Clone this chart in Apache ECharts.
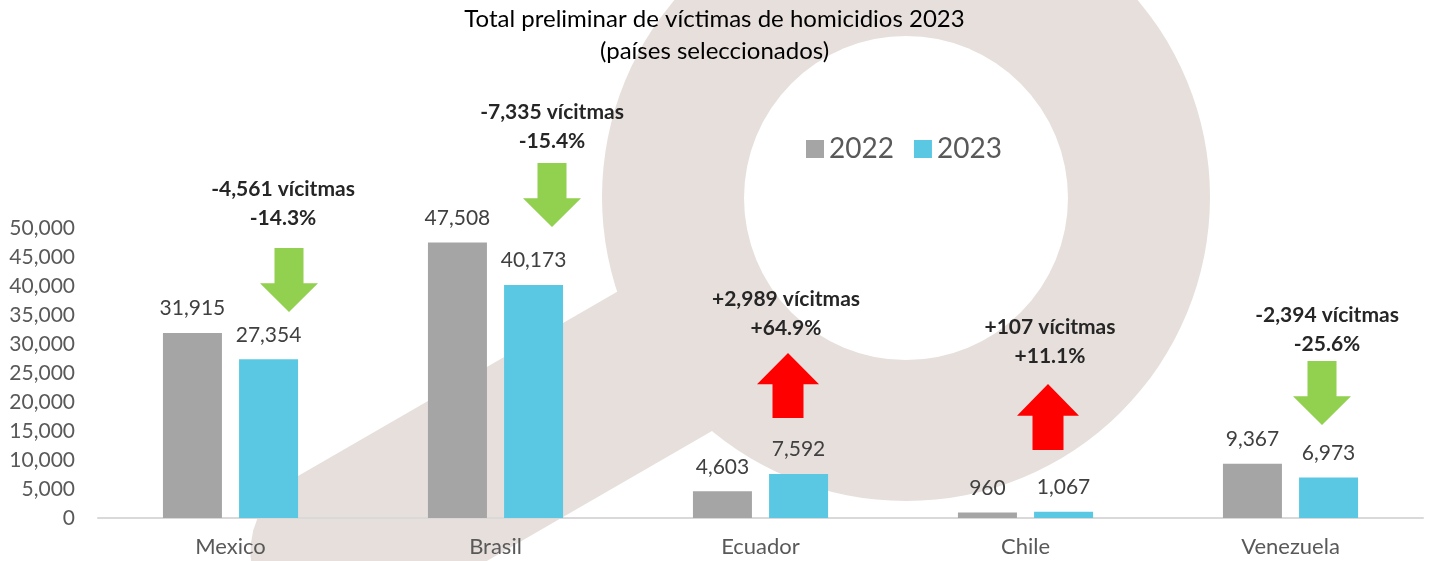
<!DOCTYPE html>
<html>
<head>
<meta charset="utf-8">
<title>Víctimas de homicidios 2023</title>
<script src="https://cdn.jsdelivr.net/npm/echarts@6/dist/echarts.min.js"></script>
<style>
  html, body { margin: 0; padding: 0; background: #fff; }
  #chart { width: 1429px; height: 561px; }
</style>
</head>
<body>
<div id="chart"></div>
<script>
// data
var countries = ['Mexico', 'Brasil', 'Ecuador', 'Chile', 'Venezuela'];
var victims2022 = [31915, 47508, 4603, 960, 9367];
var victims2023 = [27354, 40173, 7592, 1067, 6973];
var deltaText = ['-4,561 vícitmas', '-7,335 vícitmas', '+2,989 vícitmas', '+107 vícitmas', '-2,394 vícitmas'];
var pctText = ['-14.3%', '-15.4%', '+64.9%', '+11.1%', '-25.6%'];

// annotation layout (pixels): text centre x, first line y, arrow top, arrow bottom
var noteLayout = [
  { x: 283, y: 189, ax: 289, top: 248, bottom: 312 },
  { x: 552, y: 112, ax: 552, top: 163, bottom: 227 },
  { x: 786, y: 299, ax: 788, top: 353, bottom: 418 },
  { x: 1050, y: 327, ax: 1048, top: 384, bottom: 450 },
  { x: 1327, y: 315, ax: 1322, top: 361, bottom: 425 }
];

var FONT = 'Lato';
var WATERMARK = '#E6DFDC';

function downArrow(cx, top, bottom) {
  var head = (bottom - top) * 0.45;
  return [[cx - 14.5, top], [cx + 14.5, top], [cx + 14.5, bottom - head], [cx + 29, bottom - head],
    [cx, bottom], [cx - 29, bottom - head], [cx - 14.5, bottom - head]];
}
function upArrow(cx, top, bottom) {
  var head = (bottom - top) * 0.48;
  return [[cx, top], [cx + 31, top + head], [cx + 15.5, top + head], [cx + 15.5, bottom],
    [cx - 15.5, bottom], [cx - 15.5, top + head], [cx - 31, top + head]];
}

// magnifier handle as a polygon with a rounded end
function handlePoints() {
  var cx = 906, cy = 222, hw = 84;
  var d = [-Math.cos(Math.PI / 6), Math.sin(Math.PI / 6)];
  var n = [0.5, 0.866];
  var pts = [];
  var t0 = 150, t1 = 660;
  pts.push([cx + d[0] * t0 - n[0] * hw, cy + d[1] * t0 - n[1] * hw]);
  pts.push([cx + d[0] * t1 - n[0] * hw, cy + d[1] * t1 - n[1] * hw]);
  var ex = cx + d[0] * t1, ey = cy + d[1] * t1;
  for (var i = 1; i < 20; i++) {
    var a = Math.PI * i / 20;
    var ca = Math.cos(a), sa = Math.sin(a);
    pts.push([ex + (-n[0] * ca + d[0] * sa) * hw, ey + (-n[1] * ca + d[1] * sa) * hw]);
  }
  pts.push([cx + d[0] * t1 + n[0] * hw, cy + d[1] * t1 + n[1] * hw]);
  pts.push([cx + d[0] * t0 + n[0] * hw, cy + d[1] * t0 + n[1] * hw]);
  return pts;
}

var graphics = [
  { type: 'circle', z: -10, silent: true, shape: { cx: 906, cy: 197, r: 304 }, style: { fill: WATERMARK } },
  { type: 'polygon', z: -10, silent: true, shape: { points: handlePoints() }, style: { fill: WATERMARK } },
  { type: 'circle', z: -9, silent: true, shape: { cx: 906, cy: 198, r: 162 }, style: { fill: '#fff' } }
];

for (var i = 0; i < countries.length; i++) {
  var L = noteLayout[i];
  var up = deltaText[i].charAt(0) === '+';
  graphics.push({
    type: 'polygon', z: 20,
    shape: { points: up ? upArrow(L.ax, L.top, L.bottom) : downArrow(L.ax, L.top, L.bottom) },
    style: { fill: up ? '#FF0000' : '#92D050' }
  });
  graphics.push({
    type: 'text', z: 20, x: L.x, y: L.y,
    style: { text: deltaText[i], fill: '#262626', font: 'bold 21px ' + FONT, textAlign: 'center', textVerticalAlign: 'middle' }
  });
  graphics.push({
    type: 'text', z: 20, x: L.x, y: L.y + 29,
    style: { text: pctText[i], fill: '#262626', font: 'bold 21px ' + FONT, textAlign: 'center', textVerticalAlign: 'middle' }
  });
}

var chartDom = document.getElementById('chart');
var myChart = echarts.init(chartDom);
var option;

option = {
  animation: false,
  backgroundColor: '#fff',
  textStyle: { fontFamily: FONT },
  title: {
    text: 'Total preliminar de víctimas de homicidios 2023\n(países seleccionados)',
    left: 'center',
    top: -2,
    textStyle: { fontFamily: FONT, fontSize: 24, fontWeight: 'normal', color: '#000', lineHeight: 32 }
  },
  legend: {
    left: 801,
    top: 130,
    icon: 'rect',
    itemWidth: 18,
    itemHeight: 18,
    itemGap: 20,
    textStyle: { fontFamily: FONT, fontSize: 28, color: '#595959' },
    data: ['2022', '2023']
  },
  grid: { left: 98, right: 6, top: 228, bottom: 43, containLabel: false },
  xAxis: {
    type: 'category',
    data: countries,
    axisTick: { show: false },
    axisLine: { lineStyle: { color: '#D9D9D9', width: 2 } },
    axisLabel: { fontFamily: FONT, fontSize: 22, color: '#595959', margin: 18 }
  },
  yAxis: {
    type: 'value',
    min: 0,
    max: 50000,
    interval: 5000,
    splitLine: { show: false },
    axisLine: { show: false },
    axisTick: { show: false },
    axisLabel: {
      fontFamily: FONT, fontSize: 21, color: '#595959', margin: 23,
      formatter: function (v) { return v.toLocaleString('en-US'); }
    }
  },
  graphic: graphics,
  series: [
    {
      name: '2022',
      type: 'bar',
      data: victims2022,
      barWidth: 59,
      barGap: '29%',
      itemStyle: { color: '#A5A5A5' },
      label: {
        show: true, position: 'top', distance: 14,
        fontFamily: FONT, fontSize: 21, color: '#404040',
        formatter: function (p) { return p.value.toLocaleString('en-US'); }
      }
    },
    {
      name: '2023',
      type: 'bar',
      data: victims2023,
      barWidth: 59,
      barGap: '29%',
      itemStyle: { color: '#5BC8E3' },
      label: {
        show: true, position: 'top', distance: 14,
        fontFamily: FONT, fontSize: 21, color: '#404040',
        formatter: function (p) { return p.value.toLocaleString('en-US'); }
      }
    }
  ]
};

if (option && typeof option === 'object') {
  myChart.setOption(option);
}
</script>
</body>
</html>
